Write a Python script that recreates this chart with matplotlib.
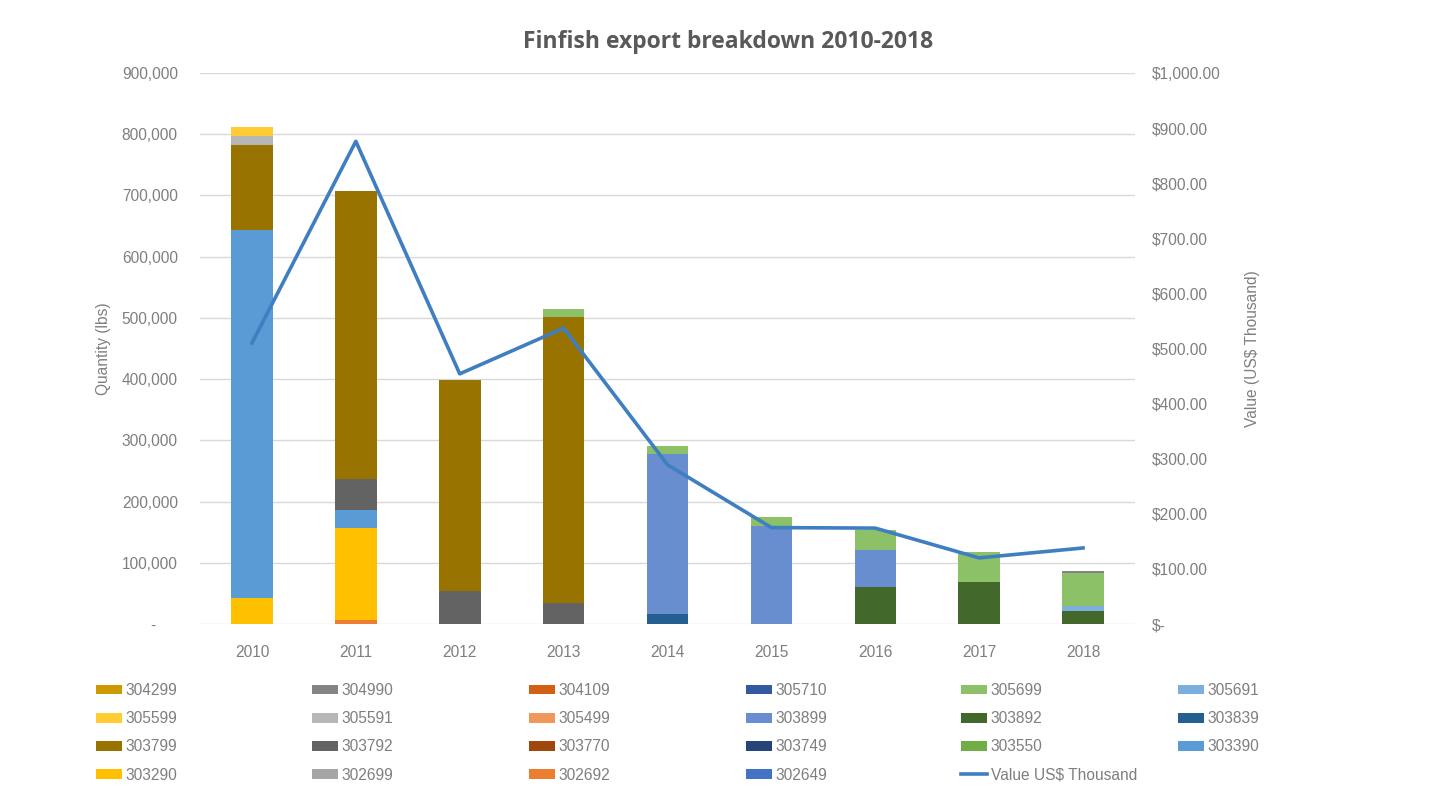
"""
Finfish export breakdown 2010-2018
Stacked quantity bars per product code plus export value line
"""
import matplotlib
matplotlib.use("Agg")
import matplotlib.pyplot as plt
from matplotlib import font_manager
from matplotlib.ticker import FuncFormatter, MultipleLocator

years = ["2010", "2011", "2012", "2013", "2014", "2015", "2016", "2017", "2018"]

# legend order (row by row, as shown under the chart)
codes = ["304299", "304990", "304109", "305710", "305699", "305691",
         "305599", "305591", "305499", "303899", "303892", "303839",
         "303799", "303792", "303770", "303749", "303550", "303390",
         "303290", "302699", "302692", "302649"]

colors = {
    "302649": "#4472C4", "302692": "#ED7D31", "302699": "#A5A5A5",
    "303290": "#FFC000", "303390": "#5B9BD5", "303550": "#70AD47",
    "303749": "#264478", "303770": "#9E480E", "303792": "#636363",
    "303799": "#997300", "303839": "#255E91", "303892": "#43682B",
    "303899": "#698ED0", "305499": "#F1975A", "305591": "#B7B7B7",
    "305599": "#FFCD33", "305691": "#7CAFDD", "305699": "#8CC168",
    "305710": "#335AA1", "304109": "#D26012", "304990": "#848484",
    "304299": "#CC9A00",
}

# quantity in lbs per code, 2010..2018
zero = [0] * 9
qty = {c: list(zero) for c in codes}
qty["303290"] = [43000, 149000, 0, 0, 0, 0, 0, 0, 0]
qty["302692"] = [0, 7000, 0, 0, 0, 0, 0, 0, 0]
qty["303390"] = [600000, 31000, 0, 0, 0, 0, 0, 0, 0]
qty["303792"] = [0, 50000, 54000, 34000, 0, 0, 0, 0, 0]
qty["303799"] = [140000, 470000, 345000, 468000, 0, 0, 0, 0, 0]
qty["303839"] = [0, 0, 0, 0, 16000, 0, 0, 0, 0]
qty["303892"] = [0, 0, 0, 0, 0, 0, 61000, 69000, 22000]
qty["303899"] = [0, 0, 0, 0, 262000, 160000, 60000, 0, 0]
qty["305591"] = [14000, 0, 0, 0, 0, 0, 0, 0, 0]
qty["305599"] = [14000, 0, 0, 0, 0, 0, 0, 0, 0]
qty["305691"] = [0, 0, 0, 0, 0, 0, 0, 0, 7000]
qty["305699"] = [0, 0, 0, 12000, 12000, 15000, 33000, 48000, 55000]
qty["304990"] = [0, 0, 0, 0, 0, 0, 0, 0, 2000]

value_usd = [510, 876, 454, 537, 289, 175, 174, 120, 138]

# fonts: Calibri-like narrow face if we have it
names = {f.name for f in font_manager.fontManager.ttflist}
if "Liberation Sans Narrow" in names:
    base_font = ["Liberation Sans Narrow", "DejaVu Sans"]
    fs = 13
else:
    base_font = ["Liberation Sans", "DejaVu Sans"]
    fs = 11.2
plt.rcParams["font.family"] = base_font

text_gray = "#7F7F7F"
W, H = 1433, 799

fig = plt.figure(figsize=(W / 100, H / 100), dpi=100)
ax = fig.add_axes([200 / W, 1 - 624 / H, 935 / W, 551 / H])
ax2 = ax.twinx()

x = list(range(len(years)))
bottom = [0] * len(years)
handles = {}
for code in reversed(codes):
    vals = qty[code]
    b = ax.bar(x, vals, 0.4, bottom=bottom, color=colors[code], label=code, zorder=2)
    handles[code] = b
    bottom = [bo + v for bo, v in zip(bottom, vals)]

line, = ax2.plot(x, value_usd, color="#3F7FC1", lw=2.6, label="Value US$ Thousand",
                 solid_joinstyle="round")

ax.set_xlim(-0.5, len(years) - 0.5)
ax.set_ylim(0, 900000)
ax.yaxis.set_major_locator(MultipleLocator(100000))
ax.yaxis.set_major_formatter(FuncFormatter(lambda v, p: "-     " if v == 0 else f"{v:,.0f}"))
ax2.set_ylim(0, 1000)
ax2.yaxis.set_major_locator(MultipleLocator(100))
ax2.yaxis.set_major_formatter(FuncFormatter(lambda v, p: "$-" if v == 0 else f"${v:,.2f}"))

ax.set_xticks(x)
ax.set_xticklabels(years)
ax.grid(axis="y", color="#D9D9D9", lw=1, zorder=0)
ax.set_axisbelow(True)

for a in (ax, ax2):
    for s in a.spines.values():
        s.set_visible(False)
    a.tick_params(length=0, colors=text_gray, labelsize=fs)
ax.tick_params(axis="y", pad=16)
ax.tick_params(axis="x", pad=15)
ax2.tick_params(axis="y", pad=12)

ax.set_ylabel("Quantity (lbs)", color=text_gray, fontsize=fs, labelpad=8)
ax2.set_ylabel("Value (US$ Thousand)", color=text_gray, fontsize=fs, rotation=90,
               labelpad=18)

fig.text(0.508, 1 - 42 / H, "Finfish export breakdown 2010-2018", ha="center", va="center",
         fontsize=16.5, fontweight="bold", color="#595959", family=["Open Sans", "DejaVu Sans"])

# legend: six columns, filled row by row
col_x = [96, 312, 529, 746, 961, 1178]
items = [handles[c] for c in codes] + [line]
labels = codes + ["Value US$ Thousand"]
for j, cx in enumerate(col_x):
    idx = list(range(j, len(items), 6))
    fig.legend([items[i] for i in idx], [labels[i] for i in idx],
               loc="upper left", bbox_to_anchor=(cx / W, 1 - 683 / H),
               frameon=False, fontsize=fs, handlelength=1.7, handleheight=0.6,
               handletextpad=0.2, borderpad=0, borderaxespad=0, labelspacing=0.85,
               labelcolor=text_gray)

fig.savefig("out.png", dpi=100, facecolor="white")
